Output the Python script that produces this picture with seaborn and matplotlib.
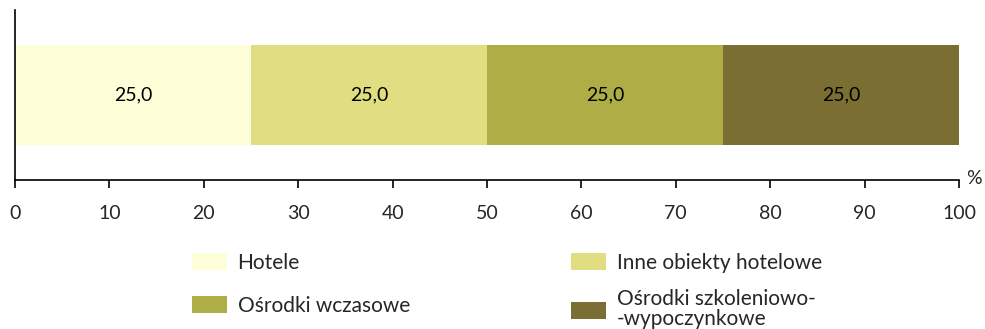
import numpy as np
import pandas as pd
import matplotlib
matplotlib.use('Agg')
import matplotlib.pyplot as plt
import matplotlib.patches as mpatches
import seaborn as sns

categories = ['Hotele', 'Inne obiekty hotelowe', 'Ośrodki wczasowe', 'Ośrodki szkoleniowo-\n-wypoczynkowe']
shares = [25.0, 25.0, 25.0, 25.0]
colors = ['#FEFED8', '#E0DE80', '#AFAD45', '#7B6E32']
xticks = [0, 10, 20, 30, 40, 50, 60, 70, 80, 90, 100]

sns.set_style('white')
plt.rcParams['font.family'] = ['Lato', 'DejaVu Sans']

fig = plt.figure(figsize=(9.85, 3.29), dpi=100)
ax = fig.add_axes([15/985, 1 - 180/329, (959 - 15)/985, 170/329])

cum = np.cumsum(shares)
# stacked bar: draw cumulative widths from the longest down
for i in range(len(shares) - 1, -1, -1):
    df = pd.DataFrame({'y': ['a'], 'x': [cum[i]]})
    sns.barplot(data=df, x='x', y='y', orient='h', color=colors[i],
                saturation=1, width=1.0, ax=ax, linewidth=0)

starts = cum - np.array(shares)
for s, v in zip(starts, shares):
    ax.text(s + v / 2, 0, f'{v:.1f}'.replace('.', ','), ha='center', va='center',
            fontsize=14, color='black')

ax.set_xlim(0, 100)
ax.set_ylim(0.85, -0.85)
ax.set_xticks(xticks)
ax.set_xticklabels([str(t) for t in xticks], fontsize=14)
ax.set_yticks([])
ax.set_xlabel('')
ax.set_ylabel('')
for side in ['top', 'right']:
    ax.spines[side].set_visible(False)
for side in ['left', 'bottom']:
    ax.spines[side].set_color('black')
    ax.spines[side].set_linewidth(1.2)
ax.tick_params(axis='x', bottom=True, direction='out', length=6, width=1.2,
               color='black', pad=12)
ax.text(1.008, 0.01, '%', transform=ax.transAxes, fontsize=14, ha='left', va='center')

handles = [mpatches.Patch(facecolor=c, edgecolor='none', label=l) for c, l in zip(colors, categories)]
leg_kw = dict(loc='upper left', frameon=False, fontsize=15, handlelength=1.7,
              handleheight=0.85, handletextpad=0.5)
leg1 = fig.legend([handles[0], handles[2]], [categories[0], categories[2]],
                  bbox_to_anchor=(173/985, 1 - 234/329), labelspacing=1.1, **leg_kw)
leg2 = fig.legend([handles[1], handles[3]], [categories[1], categories[3]],
                  bbox_to_anchor=(552/985, 1 - 234/329), labelspacing=0.8, **leg_kw)
for t in leg2.get_texts():
    t.set_linespacing(1.0)

fig.savefig('out.png', dpi=100)
